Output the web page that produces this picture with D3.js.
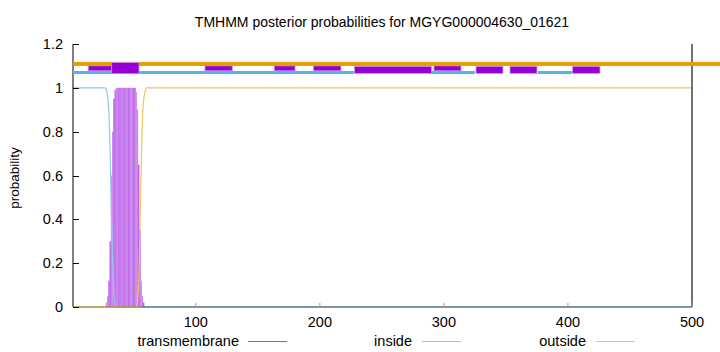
<!DOCTYPE html>
<html>
<head>
<meta charset="utf-8">
<script src="https://cdn.jsdelivr.net/npm/d3@7"></script>
<style>
  body { margin: 0; background: #fff; }
  text { font-family: "Liberation Sans", Arial, sans-serif; fill: #000; }
</style>
</head>
<body>
<div id="chart"></div>
<script>
const title = "TMHMM posterior probabilities for MGYG000004630_01621";
const xTicks = [100, 200, 300, 400, 500];
const yTicks = [0, 0.2, 0.4, 0.6, 0.8, 1, 1.2];
const seriesNames = ["transmembrane", "inside", "outside"];

// per-residue transmembrane probability (residues 27..59), 0 elsewhere
const tmStart = 27;
const tmValues = [0, 0.02, 0.05, 0.12, 0.3, 0.6, 0.8, 0.95, 0.99,
  1, 1, 1, 1, 1, 1, 1, 1, 1, 1, 1, 1, 1, 1, 1, 1,
  0.98, 0.9, 0.65, 0.35, 0.12, 0.05, 0.02, 0];

// inside / outside curves as [residue, probability]
const insidePts = [[1, 1], [27, 1], [28, 0.99], [29, 0.96], [30, 0.88], [31, 0.7],
  [32, 0.4], [33, 0.2], [34, 0.05], [35, 0.01], [36, 0], [500, 0]];
const outsidePts = [[1, 0], [52, 0], [53, 0.02], [54, 0.1], [55, 0.35], [56, 0.65],
  [57, 0.88], [58, 0.95], [59, 0.98], [60, 1], [500, 1]];

// predicted topology bands at the top: [start, end]
const outsideBand = [[1, 525]];
const insideBand = [[1, 227.5], [288, 325], [375.8, 403.3]];
const insideBump = [[258, 261.4]];
const tmThin = [[13.3, 32.2], [107.4, 129.4], [163.3, 180], [195, 217], [292, 313.8]];
const tmThick = [[32.2, 54.2]];
const tmWide = [[228, 290], [325.9, 347.6], [353.3, 375], [403.8, 425.8]];

const width = 720, height = 352;
const svg = d3.select("#chart").append("svg")
  .attr("width", width).attr("height", height);

const x = d3.scaleLinear().domain([1, 500]).range([73, 692]);
const y = d3.scaleLinear().domain([0, 1.2]).range([307, 44]);

const purple = "#9400d3", blue = "#56b4e9", orange = "#e69f00";

// title
svg.append("text").attr("x", 382).attr("y", 27)
  .attr("text-anchor", "middle").style("font-size", "14px").text(title);

// y label
svg.append("text").attr("transform", "translate(19,178) rotate(-90)")
  .attr("text-anchor", "middle").style("font-size", "13.5px").text("probability");

// tm bars
const tmData = tmValues.map((v, i) => ({ pos: tmStart + i, v: v })).filter(d => d.v > 0);
svg.append("g").selectAll("rect").data(tmData).enter().append("rect")
  .attr("x", d => x(d.pos - 0.5))
  .attr("width", x(2) - x(1))
  .attr("y", d => y(d.v))
  .attr("height", d => y(0) - y(d.v))
  .attr("fill", d => Math.floor(d.pos / 2) % 2 ? "#b14ee6" : "#cc85ee");

const line = d3.line().x(d => x(d[0])).y(d => y(d[1]));
svg.append("path").datum(insidePts).attr("d", line)
  .attr("fill", "none").attr("stroke", "#8ecbea").attr("stroke-width", 1.2);
svg.append("path").datum(outsidePts).attr("d", line)
  .attr("fill", "none").attr("stroke", "#f3c463").attr("stroke-width", 1.2);

// axes
const axis = svg.append("g").attr("stroke", "#000").attr("stroke-width", 1);
axis.append("line").attr("x1", x(1)).attr("x2", x(1)).attr("y1", y(1.2)).attr("y2", y(0));
axis.append("line").attr("x1", x(500)).attr("x2", x(500)).attr("y1", y(1.2)).attr("y2", y(0))
  .attr("stroke", "#444").attr("stroke-width", 1.5);
axis.append("line").attr("x1", x(1)).attr("x2", x(56)).attr("y1", y(0)).attr("y2", y(0))
  .attr("stroke", "#8a6a2a");
axis.append("line").attr("x1", x(56)).attr("x2", x(500)).attr("y1", y(0)).attr("y2", y(0))
  .attr("stroke", "#2f4a5c");

svg.append("g").selectAll("line").data(yTicks).enter().append("line")
  .attr("x1", x(1)).attr("x2", x(1) + 6)
  .attr("y1", d => Math.round(y(d)) + 0.5).attr("y2", d => Math.round(y(d)) + 0.5)
  .attr("stroke", "#000");
svg.append("g").selectAll("text").data(yTicks).enter().append("text")
  .attr("x", 63).attr("y", d => y(d) + 5)
  .attr("text-anchor", "end").style("font-size", "14.5px")
  .text(d => d3.format("~g")(d));

svg.append("g").selectAll("line").data(xTicks).enter().append("line")
  .attr("x1", d => x(d)).attr("x2", d => x(d))
  .attr("y1", y(0)).attr("y2", y(0) - 4)
  .attr("stroke", "#999");
svg.append("g").selectAll("text").data(xTicks).enter().append("text")
  .attr("x", d => x(d)).attr("y", 327)
  .attr("text-anchor", "middle").style("font-size", "14.5px").text(d => d);

// top bands
const bands = svg.append("g");
function drawBands(data, level, thick, color) {
  bands.append("g").selectAll("rect").data(data).enter().append("rect")
    .attr("x", d => x(d[0])).attr("width", d => x(d[1]) - x(d[0]))
    .attr("y", y(level) - thick / 2).attr("height", thick)
    .attr("fill", color);
}
drawBands(outsideBand, 1.109, 4, orange);
drawBands(insideBand, 1.07, 3, blue);
drawBands(insideBump, 1.078, 2.5, blue);
drawBands(tmThin, 1.089, 5, purple);
drawBands(tmWide, 1.082, 7, purple);
drawBands(tmThick, 1.09, 11, purple);
bands.selectAll("rect").filter(function () { return d3.select(this).attr("fill") === purple; })
  .attr("stroke", "#c98ce6").attr("stroke-width", 0.8);

// legend
const legendItems = [
  { name: seriesNames[0], textEnd: 239, lx: 248, color: "#a94ad9" },
  { name: seriesNames[1], textEnd: 412, lx: 422, color: "#8ecbea" },
  { name: seriesNames[2], textEnd: 586, lx: 596, color: "#f3c463" }
];
const lg = svg.append("g").selectAll("g").data(legendItems).enter().append("g");
lg.append("text").attr("x", d => d.textEnd).attr("y", 346)
  .attr("text-anchor", "end").style("font-size", "14.5px").text(d => d.name);
lg.append("line").attr("x1", d => d.lx).attr("x2", d => d.lx + 39)
  .attr("y1", 341.5).attr("y2", 341.5)
  .attr("stroke", d => d.color).attr("stroke-width", 1);
</script>
</body>
</html>
